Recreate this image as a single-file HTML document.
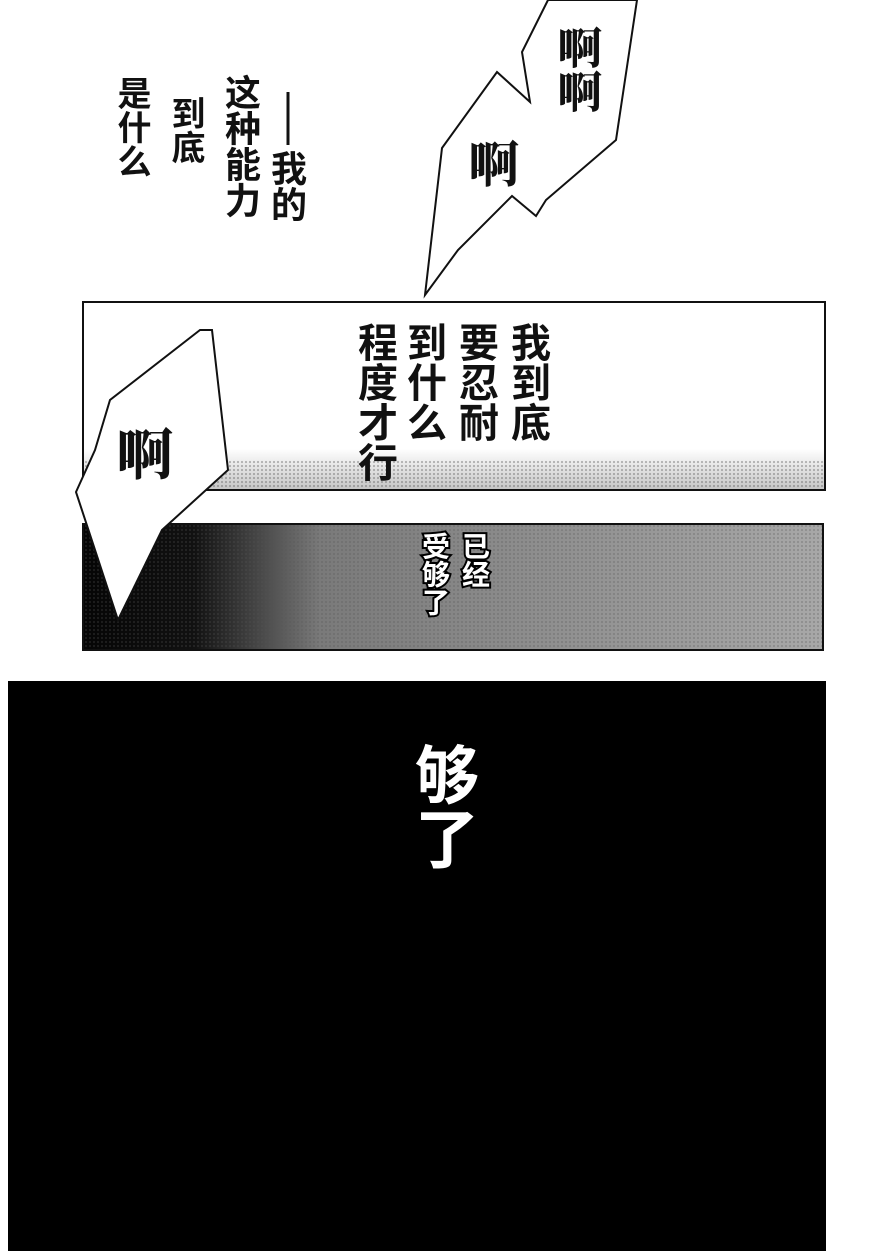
<!DOCTYPE html>
<html><head><meta charset="utf-8"><style>
html,body{margin:0;padding:0}
body{width:888px;height:1251px;background:#fff;position:relative;overflow:hidden;font-family:"Liberation Sans","Noto Sans CJK SC",sans-serif}
.v{position:absolute;writing-mode:vertical-rl;font-weight:bold;color:#111;line-height:1;letter-spacing:0}
.s{font-family:"Liberation Serif","Noto Serif CJK SC",serif;font-weight:900}
.w{color:#fff;-webkit-text-stroke:4px #000;paint-order:stroke fill}
</style></head><body>
<svg width="888" height="1251" style="position:absolute;left:0;top:0">
<defs>
<pattern id="dots" width="4" height="4" patternUnits="userSpaceOnUse"><circle cx="2" cy="2" r="1.1" fill="#555"/></pattern>
<linearGradient id="g1" x1="0" y1="0" x2="0" y2="1"><stop offset="0" stop-color="#fff"/><stop offset="0.78" stop-color="#fff"/><stop offset="1" stop-color="#c4c4c4"/></linearGradient>
<linearGradient id="g2" x1="0" y1="0" x2="1" y2="0"><stop offset="0" stop-color="#050505"/><stop offset="0.15" stop-color="#111"/><stop offset="0.32" stop-color="#7a7a7a"/><stop offset="1" stop-color="#a8a8a8"/></linearGradient>
</defs>
<polygon points="548,0 522,52 530,102 497,72 442,148 425,295 458,250 512,196 536,216 546,200 616,140 637,0" fill="#fff" stroke="#111" stroke-width="2"/>
<rect x="83" y="302" width="742" height="188" fill="url(#g1)" stroke="#111" stroke-width="2"/>
<rect x="84" y="460" width="740" height="29" fill="url(#dots)" opacity="0.4"/>
<rect x="83" y="524" width="740" height="126" fill="url(#g2)" stroke="#111" stroke-width="2"/>
<rect x="84" y="525" width="738" height="124" fill="url(#dots)" opacity="0.3"/>
<polygon points="200,330 110,400 95,450 76,492 118,620 162,530 228,470 212,330" fill="#fff" stroke="#111" stroke-width="2"/>
<rect x="8" y="681" width="818" height="580" fill="#000"/>
<line x1="288" y1="92" x2="288" y2="145" stroke="#111" stroke-width="3"/>
</svg>
<div class="v s" style="left:553px;top:25px;font-size:44px">啊啊</div>
<div class="v s" style="left:465px;top:138px;font-size:50px">啊</div>
<div class="v s" style="left:112px;top:425px;font-size:56px">啊</div>
<div class="v" style="left:268px;top:150px;font-size:36px">我的</div>
<div class="v" style="left:222px;top:74px;font-size:36px">这种能力</div>
<div class="v" style="left:168px;top:96px;font-size:34px">到底</div>
<div class="v" style="left:114px;top:76px;font-size:34px">是什么</div>
<div class="v" style="left:507px;top:322px;font-size:40px">我到底</div>
<div class="v" style="left:455px;top:322px;font-size:40px">要忍耐</div>
<div class="v" style="left:403px;top:322px;font-size:40px">到什么</div>
<div class="v" style="left:354px;top:322px;font-size:40px">程度才行</div>
<div class="v w" style="left:460px;top:532px;font-size:28px">已经</div>
<div class="v w" style="left:420px;top:532px;font-size:28px">受够了</div>
<div class="v" style="left:410px;top:742px;font-size:64px;color:#fff">够了</div>
</body></html>
